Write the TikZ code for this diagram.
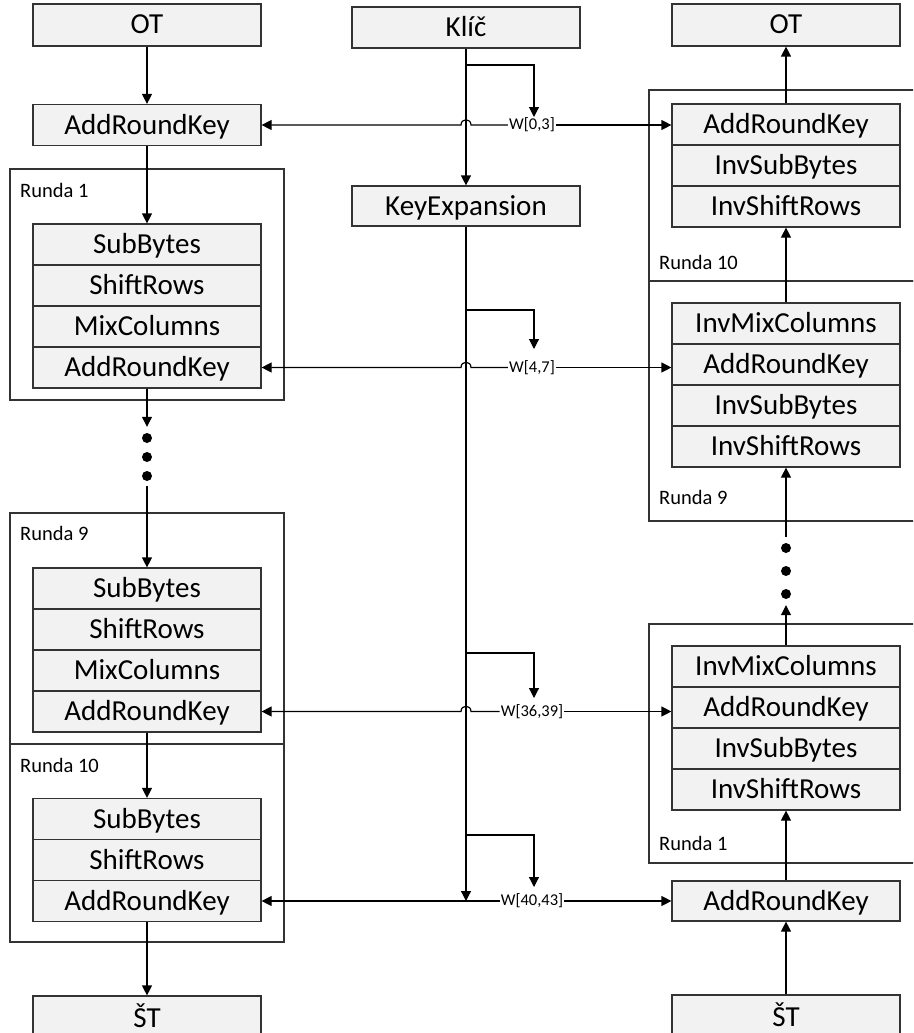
\documentclass[tikz,border=0pt]{standalone}
\usepackage{fontspec}
\setmainfont{Carlito}
\usetikzlibrary{arrows.meta}
\begin{document}
\begin{tikzpicture}[x=1pt,y=-1pt,
  box/.style={draw=black!80, fill=black!5, line width=1.2pt, minimum width=228pt, minimum height=41pt,
    inner sep=0pt, font=\fontsize{29}{32}\selectfont, text height=21pt, text depth=3pt},
  frame/.style={draw=black!80, line width=1.1pt},
  rlab/.style={anchor=west, inner sep=0pt, font=\fontsize{20.5}{23}\selectfont},
  wlab/.style={inner sep=1pt, font=\fontsize{16.5}{18}\selectfont},
  dot/.style={circle, fill=black, minimum size=10pt, inner sep=0pt},
  arr/.style={line width=1.2pt, -{Triangle[length=10pt,width=10pt]}},
  ln/.style={line width=1.2pt}]
\useasboundingbox (0,0) rectangle (913,1033);
\clip (0,0) rectangle (913,1033);
% round frames
\draw[frame] (10,169) rectangle (284,400);
\draw[frame] (10,513) rectangle (284,744);
\draw[frame] (10,744) rectangle (284,942);
\draw[frame] (649,90) rectangle (925,281);
\draw[frame] (649,281) rectangle (925,521);
\draw[frame] (649,624) rectangle (925,863);
\node[rlab] (lr1) at (20,190) {Runda 1};
\node[rlab] (lr9) at (20,533) {Runda 9};
\node[rlab] (lr10) at (20,765) {Runda 10};
\node[rlab] (rr10) at (659,262) {Runda 10};
\node[rlab] (rr9) at (659,497) {Runda 9};
\node[rlab] (rr1) at (659,843) {Runda 1};
% left column
\node[box, minimum height=42pt] (lOT) at (147,25) {OT};
\node[box] (lA0) at (147,125) {AddRoundKey};
\node[box] (l1a) at (147,244.5) {SubBytes};
\node[box] (l1b) at (147,285.5) {ShiftRows};
\node[box] (l1c) at (147,326.5) {MixColumns};
\node[box] (l1d) at (147,367.5) {AddRoundKey};
\node[dot] (ld1) at (147,438) {};
\node[dot] (ld2) at (147,457) {};
\node[dot] (ld3) at (147,476) {};
\node[box] (l9a) at (147,588.5) {SubBytes};
\node[box] (l9b) at (147,629.5) {ShiftRows};
\node[box] (l9c) at (147,670.5) {MixColumns};
\node[box] (l9d) at (147,711.5) {AddRoundKey};
\node[box] (l10a) at (147,819) {SubBytes};
\node[box] (l10b) at (147,860) {ShiftRows};
\node[box] (l10c) at (147,901) {AddRoundKey};
\node[box, minimum height=44pt] (lST) at (147,1018) {ŠT};
% key column
\node[box] (key) at (466,27.5) {Klíč};
\node[box, minimum height=40pt] (kexp) at (466,206) {KeyExpansion};
% right column
\node[box, minimum height=42pt] (rOT) at (786,25) {OT};
\node[box] (r10a) at (786,124.5) {AddRoundKey};
\node[box] (r10b) at (786,165.5) {InvSubBytes};
\node[box] (r10c) at (786,206.5) {InvShiftRows};
\node[box] (r9a) at (786,323.5) {InvMixColumns};
\node[box] (r9b) at (786,364.5) {AddRoundKey};
\node[box] (r9c) at (786,405.5) {InvSubBytes};
\node[box] (r9d) at (786,446.5) {InvShiftRows};
\node[dot] (rd1) at (786,548) {};
\node[dot] (rd2) at (786,571) {};
\node[dot] (rd3) at (786,594) {};
\node[box] (r1a) at (786,666.5) {InvMixColumns};
\node[box] (r1b) at (786,707.5) {AddRoundKey};
\node[box] (r1c) at (786,748.5) {InvSubBytes};
\node[box] (r1d) at (786,789.5) {InvShiftRows};
\node[box, minimum height=40pt] (rA) at (786,901) {AddRoundKey};
\node[box, minimum height=44pt] (rST) at (786,1017) {ŠT};
% W labels
\node[wlab] (w0) at (532,125) {W[0,3]};
\node[wlab] (w1) at (532,367.5) {W[4,7]};
\node[wlab] (w2) at (532,711.5) {W[36,39]};
\node[wlab] (w3) at (532,901) {W[40,43]};
% left flow
\draw[arr] (lOT) -- (lA0);
\draw[arr] (lA0) -- (l1a);
\draw[arr, shorten >=6pt] (l1d.south) -- (ld1.north);
\draw[arr, shorten <=5pt] (ld3.south) -- (l9a.north);
\draw[arr] (l9d) -- (l10a);
\draw[arr] (l10c) -- (lST);
% right flow
\draw[arr] (r10a) -- (rOT);
\draw[arr] (r9a) -- (r10c);
\draw[arr, shorten >=6pt] (r1a.north) -- (rd3.south);
\draw[arr, shorten <=6pt] (rd1.north) -- (r9d.south);
\draw[arr] (rA) -- (r1d);
\draw[arr] (rST) -- (rA);
% key flow
\coordinate (kend) at (466,901);
\draw[arr] (key) -- (kexp);
\draw[arr] (kexp.south) -- (kend);
\coordinate (b0) at (466,65);  \coordinate (t0) at (534,117);
\coordinate (b1) at (466,310); \coordinate (t1) at (534,349);
\coordinate (b2) at (466,653); \coordinate (t2) at (534,698);
\coordinate (b3) at (466,835); \coordinate (t3) at (534,887);
\draw[arr] (b0) -| (t0);
\draw[arr] (b1) -| (t1);
\draw[arr] (b2) -| (t2);
\draw[arr] (b3) -| (t3);
% horizontal key lines with hops
\draw[arr] (w0.west) -- (471,125) .. controls (471,118) and (461,118) .. (461,125) -- (lA0.east);
\draw[arr] (w0.east) -- (r10a.west |- w0.east);
\draw[arr] (w1.west) -- (471,367.5) .. controls (471,360.5) and (461,360.5) .. (461,367.5) -- (l1d.east);
\draw[arr] (w1.east) -- (r9b.west |- w1.east);
\draw[arr] (w2.west) -- (471,711.5) .. controls (471,704.5) and (461,704.5) .. (461,711.5) -- (l9d.east);
\draw[arr] (w2.east) -- (r1b.west |- w2.east);
\draw[arr] (w3.west) -- (l10c.east);
\draw[arr] (w3.east) -- (rA.west);
\end{tikzpicture}
\end{document}
